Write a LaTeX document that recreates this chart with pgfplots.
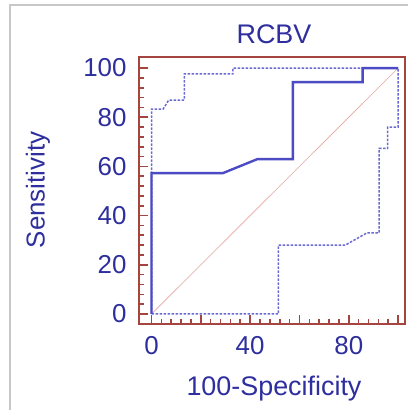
\documentclass[border=0pt]{standalone}
\usepackage{fontspec}
\setmainfont{Liberation Sans}
\usepackage{pgfplots}
\pgfplotsset{compat=1.18}
\definecolor{frame}{HTML}{A5453F}
\definecolor{txtblue}{HTML}{2E2E9E}
\definecolor{curve}{HTML}{4B4BC4}
\definecolor{curvelight}{HTML}{6A6AD2}
\definecolor{diag}{HTML}{E8B4B0}
\begin{document}
\begin{tikzpicture}[x=1bp,y=1bp]
\path[use as bounding box] (0,0) rectangle (408,410);
\draw[color=black!22, line width=2bp] (10,0) -- (10,405) -- (410,405);
\begin{axis}[
  at={(139bp,86bp)}, anchor=south west,
  scale only axis, width=266bp, height=267bp,
  xmin=-5.07, xmax=102.8, ymin=-4.07, ymax=104.5,
  axis line style={frame, line width=2.6bp},
  every tick/.style={frame, line width=1.6bp},
  major tick length=9bp, minor tick length=5bp,
  tick align=inside,
  xtick={0,20,...,100}, xticklabels={0,,40,,80,},
  ytick={0,20,...,100},
  minor tick num=4,
  xtick pos=bottom, ytick pos=left,
  /pgf/number format/assume math mode=true,
  tick label style={font=\fontsize{26}{30}\selectfont, text=txtblue},
  xticklabel style={yshift=-9bp},
  yticklabel style={xshift=-9bp},
  title={RCBV},
  title style={font=\fontsize{27}{30}\selectfont, text=txtblue, at={(axis description cs:0.5075,1.062)}, anchor=center},
  xlabel={100-Specificity},
  xlabel style={font=\fontsize{27}{30}\selectfont, text=txtblue, at={(axis description cs:0.5075,-0.243)}, anchor=center},
  ylabel={Sensitivity},
  ylabel style={font=\fontsize{26}{30}\selectfont, text=txtblue, at={(axis description cs:-0.38,0.502)}, anchor=center},
]
\addplot[diag, line width=0.8bp] coordinates {(0,0) (100,100)};
\addplot[curvelight, line width=1.5bp, dash pattern=on 2.5bp off 1.5bp] coordinates {
(0,0) (0,83.3) (4.7,83.3) (7,87) (13.3,87) (13.3,97.6) (33,97.6) (33,100) (100,100)};
\addplot[curvelight, line width=1.5bp, dash pattern=on 2.5bp off 1.5bp] coordinates {
(0,0) (51.5,0) (51.5,28) (78.6,28) (87.4,33) (92.3,33) (92.3,67.3) (95.8,67.3) (95.8,76) (100,76) (100,100)};
\addplot[curve, line width=2.4bp] coordinates {
(0,0) (0,57.3) (29,57.3) (43,63) (57.3,63) (57.3,94.3) (85.6,94.3) (85.6,100) (100,100)};
\end{axis}
\end{tikzpicture}
\end{document}
